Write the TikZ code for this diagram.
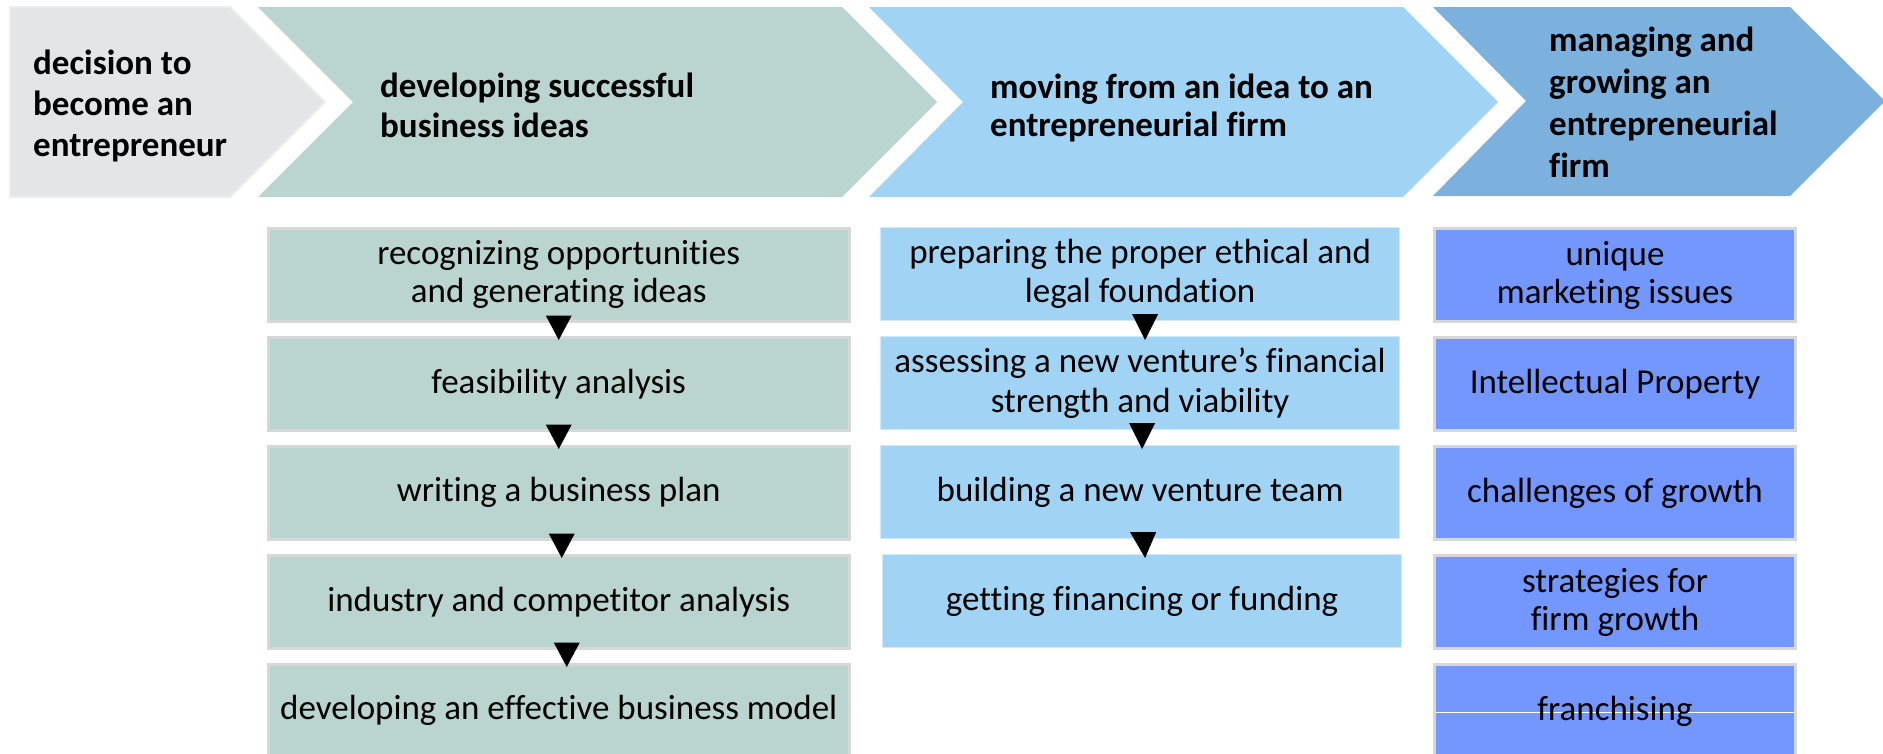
\documentclass[tikz,border=0pt]{standalone}
\usepackage{fontspec}
\setmainfont{Carlito}[RawFeature={-liga}]
\usetikzlibrary{calc}
\definecolor{chgray}{HTML}{E4E5E7}
\definecolor{chgrayedge}{HTML}{ECEDEF}
\definecolor{chgreen}{HTML}{BAD4CF}
\definecolor{chblue}{HTML}{A1D4F4}
\definecolor{chdark}{HTML}{7CB1DD}
\definecolor{boxpurple}{HTML}{7496FF}
\definecolor{boxedge}{HTML}{D6D8D8}
\begin{document}
\begin{tikzpicture}[x=1pt,y=-1pt,
  head/.style={font=\fontsize{35}{41}\selectfont\bfseries, align=left, anchor=west, inner sep=0pt, text=black},
  stepbox/.style={rectangle, anchor=north west, minimum height=93pt, inner sep=0pt, align=center, font=\fontsize{35}{38}\selectfont},
  gbox/.style={stepbox, fill=chgreen, draw=boxedge, line width=2.5pt, minimum width=581pt},
  bbox/.style={stepbox, fill=chblue, draw=chblue!50!white, line width=1.2pt, minimum width=519pt},
  pbox/.style={stepbox, fill=boxpurple, draw=boxedge, line width=3pt, minimum width=361pt},
  marker/.style={fill=black}]
\useasboundingbox (0,0) rectangle (1883,753);
\clip (0,0) rectangle (1883,753);
\fill[white] (0,0) rectangle (1883,753);

% chevrons
\filldraw[fill=chgray, draw=chgrayedge, line width=2pt] (10,7) -- (230,7) -- (325,102) -- (230,197) -- (10,197) -- cycle;
\fill[chgreen] (258,7) -- (842,7) -- (937,102) -- (842,197) -- (258,197) -- (353,102) -- cycle;
\fill[chblue] (869,7) -- (1403,7) -- (1498,102) -- (1403,197) -- (869,197) -- (963,102) -- cycle;
\fill[chdark] (1433,7) -- (1790,7) -- (1885,101) -- (1790,196) -- (1433,196) -- (1526,101) -- cycle;

\node[head] (h1) at (33,106) {decision to\\become an\\entrepreneur};
\node[head, font=\fontsize{35}{40}\selectfont\bfseries] (h2) at (380,105) {developing successful\\business ideas};
\node[head, font=\fontsize{35}{38}\selectfont\bfseries] (h3) at (990,108) {moving from an idea to an\\entrepreneurial firm};
\node[head, font=\fontsize{35}{42}\selectfont\bfseries] (h4) at (1549,102) {managing and\\growing an\\entrepreneurial\\firm};

% green column
\node[gbox] (g1) at (267,227) {recognizing opportunities\\and generating ideas};
\node[gbox] (g2) at (267,336) {feasibility analysis};
\node[gbox] (g3) at (267,445) {writing a business plan};
\node[gbox] (g4) at (267,554) {industry and competitor analysis};
\node[gbox] (g5) at (267,663) {developing an effective business model};

% blue column
\node[bbox, font=\fontsize{35}{39}\selectfont] (b1) at (880,227) {preparing the proper ethical and\\legal foundation};
\node[bbox, font=\fontsize{35}{40}\selectfont] (b2) at (880,336) {assessing a new venture’s financial\\strength and viability};
\node[bbox] (b3) at (880,445) {building a new venture team};
\node[bbox] (b4) at (882,554) {getting financing or funding};

% purple column
\node[pbox] (p1) at (1433,227) {unique\\marketing issues};
\node[pbox] (p2) at (1433,336) {Intellectual Property};
\node[pbox] (p3) at (1433,445) {challenges of growth};
\node[pbox] (p4) at (1433,554) {strategies for\\firm growth};
\node[pbox, path picture={\draw[white, line width=1pt] ([yshift=-1.5pt]path picture bounding box.west) -- ([yshift=-1.5pt]path picture bounding box.east);}] (p5) at (1433,663) {franchising};

% markers between steps
\foreach \a/\b/\dx in {g1/g2/0, g2/g3/0, g3/g4/3, g4/g5/8, b1/b2/5, b2/b3/2, b3/b4/3}
  \fill[marker] ($(\a.south)+(\dx-13,-7)$) -- ($(\a.south)+(\dx+13,-7)$) -- ($(\b.north)+(\dx,4)$) -- cycle;
\end{tikzpicture}
\end{document}
